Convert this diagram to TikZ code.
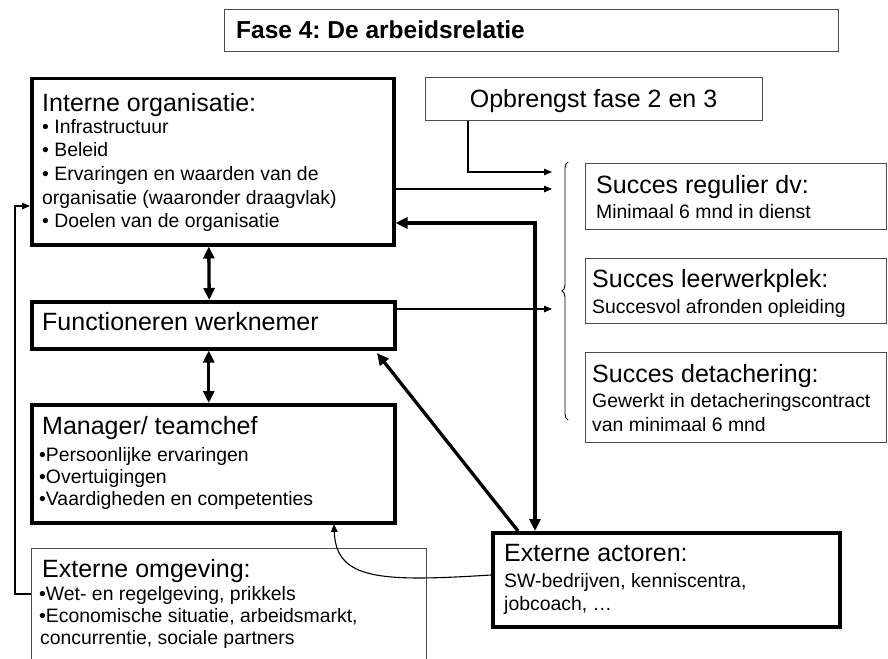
\documentclass[tikz,border=0pt]{standalone}
\usepackage{fontspec}
\setmainfont{Liberation Sans}
\usetikzlibrary{arrows.meta,decorations.pathreplacing}
\begin{document}
\frenchspacing
\begin{tikzpicture}[x=1pt,y=-1pt,
  thickbox/.style={draw=black,line width=3.5pt,anchor=north west,inner sep=0pt},
  thinbox/.style={draw=black!70,line width=1.1pt,anchor=north west,inner sep=0pt},
  txt/.style={inner sep=0pt,anchor=base west},
  head/.style={txt,font=\fontsize{25}{30}\selectfont},
  small/.style={txt,font=\fontsize{19.4}{23}\selectfont},
  thinarrow/.style={draw=black,line width=1.1pt,-{Triangle[length=8pt,width=6.5pt]}},
  thickline/.style={draw=black,line width=3.3pt},
  bigtip/.tip={Triangle[length=12pt,width=11pt]}
]
\useasboundingbox (0,0) rectangle (888,658);
\clip (0,0) rectangle (888,658);
\fill[white] (0,0) rectangle (888,658);

% boxes
\node[thinbox,minimum width=614pt,minimum height=42pt] (t) at (224,9) {};
\node[thickbox,minimum width=362pt,minimum height=166pt] (io) at (30,77) {};
\node[thinbox,minimum width=337pt,minimum height=43pt] (opb) at (425,77) {};
\node[thickbox,minimum width=363pt,minimum height=47pt] (fw) at (30,300) {};
\node[thickbox,minimum width=363pt,minimum height=118pt] (mg) at (30,403) {};
\node[thinbox,minimum width=395pt,minimum height=160pt] (om) at (31,548) {};
\node[thinbox,minimum width=301pt,minimum height=66pt] (s1) at (585,163) {};
\node[thinbox,minimum width=301pt,minimum height=65pt] (s2) at (585,258) {};
\node[thinbox,minimum width=301pt,minimum height=90pt] (s3) at (585,352) {};
\node[thickbox,minimum width=347pt,minimum height=94pt] (ea) at (491,531) {};

% texts
\node[txt,font=\bfseries\fontsize{24.5}{29}\selectfont] (tt) at (236,39) {Fase 4: De arbeidsrelatie};

\node[head] (ioh) at (42,112) {Interne organisatie:};
\node[small] (io1) at (42,133.5) {• Infrastructuur};
\node[small] (io2) at (42,157) {• Beleid};
\node[small] (io3) at (42,180.5) {• Ervaringen en waarden van de};
\node[small] (io4) at (42,204) {organisatie (waaronder draagvlak)};
\node[small] (io5) at (42,227.5) {• Doelen van de organisatie};

\node[txt,anchor=base,font=\fontsize{25}{30}\selectfont] (opbt) at (593.5,108) {Opbrengst fase 2 en 3};

\node[head] (fwh) at (42,330) {Functioneren werknemer};

\node[head] (mgh) at (42,434) {Manager/ teamchef};
\node[small] (mg1) at (39,461) {•Persoonlijke ervaringen};
\node[small] (mg2) at (39,483) {•Overtuigingen};
\node[small] (mg3) at (39,505) {•Vaardigheden en competenties};

\node[head] (omh) at (42,577) {Externe omgeving:};
\node[small] (om1) at (39,600) {•Wet- en regelgeving, prikkels};
\node[small] (om2) at (39,622) {•Economische situatie, arbeidsmarkt,};
\node[small] (om3) at (40,644) {concurrentie, sociale partners};

\node[head] (s1h) at (596,193) {Succes regulier dv:};
\node[small] (s1a) at (596,218) {Minimaal 6 mnd in dienst};
\node[head] (s2h) at (592,287) {Succes leerwerkplek:};
\node[small] (s2a) at (592,313) {Succesvol afronden opleiding};
\node[head] (s3h) at (592,382) {Succes detachering:};
\node[small] (s3a) at (592,407) {Gewerkt in detacheringscontract};
\node[small] (s3b) at (592,431) {van minimaal 6 mnd};

\node[head] (eah) at (504,561) {Externe actoren:};
\node[small] (ea1) at (504,587) {SW-bedrijven, kenniscentra,};
\node[small] (ea2) at (504,610) {jobcoach, …};

% coordinates
\coordinate (a1) at (552,172);
\coordinate (a2) at (552,189);
\coordinate (a3) at (552,309);
\coordinate (k1) at (535,223);
\coordinate (k2) at (377,353);
\coordinate (cs) at (491,575);
\coordinate (cv) at (334,524);
\coordinate (fb) at (15,594);
\coordinate (fbt) at (30,206);

% brace
\draw[line width=0.9pt,decorate,decoration={brace,amplitude=6pt}] (568,420) -- (568,162);

% connectors
\draw[thinarrow] ([xshift=43pt]opb.south west) |- (a1);
\draw[thinarrow] (io.east |- a2) -- (a2);
\draw[thinarrow] (fw.east |- a3) -- (a3);
\draw[thickline,bigtip-bigtip] (io.east |- k1) -| (ea.north -| k1);
\draw[thickline,-bigtip] ([xshift=27pt]ea.north west) -- (k2);
\draw[thickline,bigtip-bigtip] ([xshift=-4pt]io.south) -- ([xshift=-4pt]fw.north);
\draw[thickline,bigtip-bigtip] ([xshift=-4.5pt]fw.south) -- ([xshift=-4.5pt]mg.north);
\draw[thinarrow] (ea.west |- cs) .. controls (380,582) and (336,580) .. (cv);
\draw[thinarrow] (om.west |- fb) -- (fb) |- (io.west |- fbt);
\end{tikzpicture}
\end{document}
